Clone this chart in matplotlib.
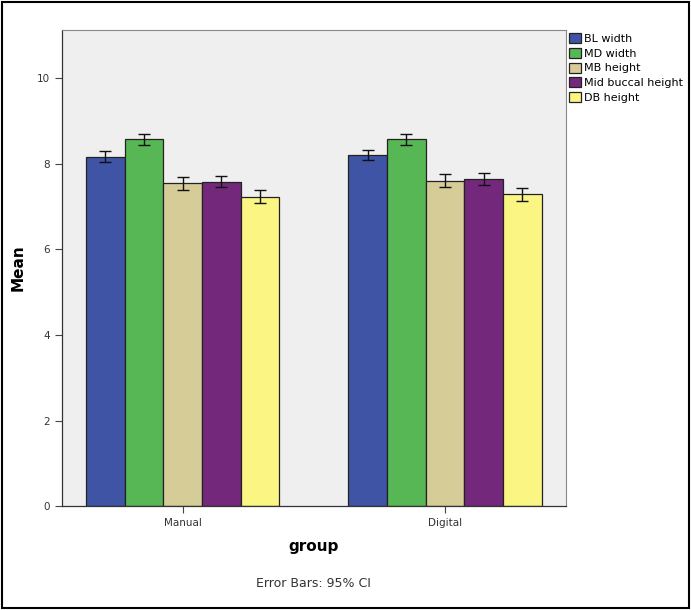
import matplotlib
matplotlib.use('Agg')
import matplotlib.pyplot as plt
import numpy as np

# datos
grupos = ['Manual', 'Digital']
series = ['BL width', 'MD width', 'MB height', 'Mid buccal height', 'DB height']
medias = {
    'BL width': [8.16, 8.20],
    'MD width': [8.57, 8.57],
    'MB height': [7.54, 7.60],
    'Mid buccal height': [7.58, 7.64],
    'DB height': [7.23, 7.28],
}
ic95 = {
    'BL width': [0.13, 0.12],
    'MD width': [0.13, 0.13],
    'MB height': [0.155, 0.15],
    'Mid buccal height': [0.13, 0.13],
    'DB height': [0.155, 0.155],
}
colores = ['#3F54A5', '#58B755', '#D5CC98', '#73287B', '#FBF583']

fig = plt.figure(figsize=(6.91, 6.10), dpi=100)
ax = fig.add_axes([0.0897, 0.170, 0.729, 0.781])
ax.set_facecolor('#EFEFEF')

x = np.arange(len(grupos))
ancho = 0.1474
for i, s in enumerate(series):
    pos = x + (i - 2) * ancho
    ax.bar(pos, medias[s], width=ancho, color=colores[i], edgecolor='#222222',
           linewidth=0.9, label=s, zorder=2)
    ax.errorbar(pos, medias[s], yerr=ic95[s], fmt='none', ecolor='#111111',
                elinewidth=1, capsize=4, capthick=1, zorder=3)

ax.set_xlim(-0.46, 1.46)
ax.set_ylim(0, 11.12)
ax.set_yticks([0, 2, 4, 6, 8, 10])
ax.set_xticks(x)
ax.set_xticklabels(grupos)
ax.tick_params(axis='both', labelsize=7.5, labelcolor='#333333', direction='out',
               length=5, width=0.8, color='#444444')

for lado in ['top', 'right']:
    ax.spines[lado].set_color('#888888')
    ax.spines[lado].set_linewidth(0.8)
for lado in ['left', 'bottom']:
    ax.spines[lado].set_color('#333333')
    ax.spines[lado].set_linewidth(0.9)

ax.set_xlabel('group', fontsize=11, fontweight='bold', labelpad=8)
ax.set_ylabel('Mean', fontsize=11, fontweight='bold', labelpad=8)

ax.legend(loc='upper left', bbox_to_anchor=(1.0, 1.0), frameon=False, fontsize=8,
          handlelength=1.1, handleheight=1.0, handletextpad=0.25, labelspacing=0.35,
          borderaxespad=0.0, borderpad=0.3)

fig.text(0.453, 0.044, 'Error Bars: 95% CI', fontsize=9, color='#333333',
         ha='center', va='center')

# marco exterior
fig.patches.append(plt.Rectangle((0.003, 0.003), 0.994, 0.994, transform=fig.transFigure,
                                 fill=False, edgecolor='black', linewidth=1.5))

fig.savefig('out.png', dpi=100)
